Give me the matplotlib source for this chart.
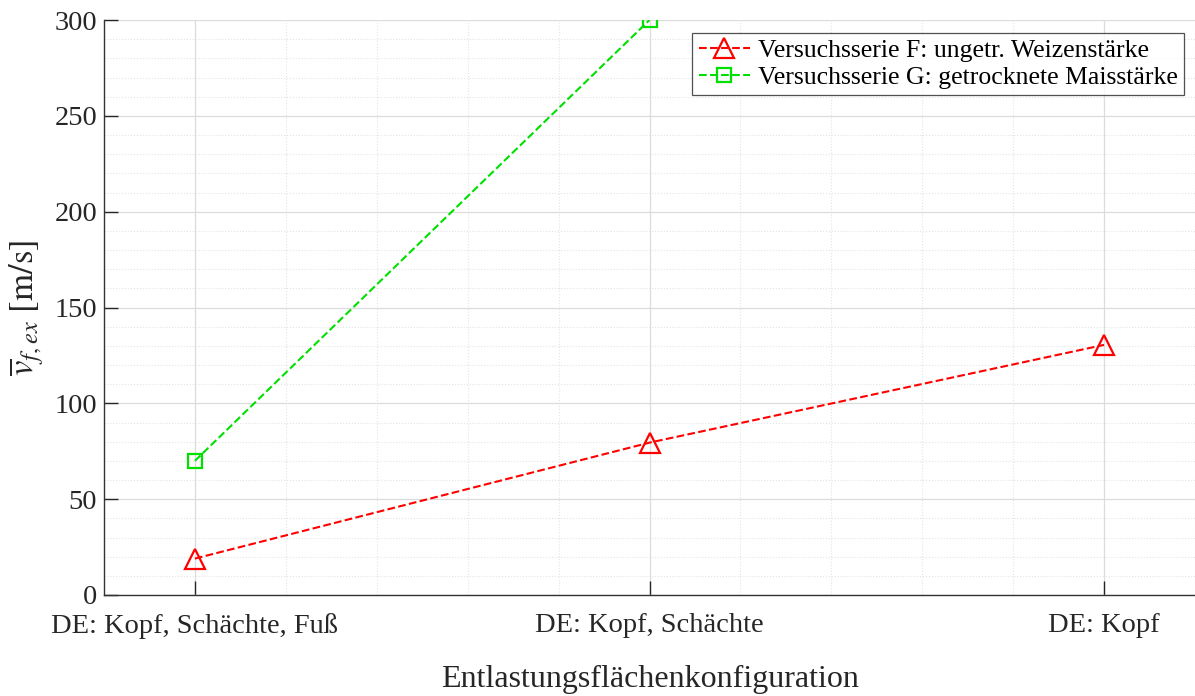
import matplotlib.pyplot as plt
from matplotlib.ticker import MultipleLocator

# Konfigurationen der Entlastungsflächen
konfigurationen = ['DE: Kopf, Schächte, Fuß', 'DE: Kopf, Schächte', 'DE: Kopf']
pos_f = [0, 1, 2]
pos_g = [0, 1]

# mittlere Flammengeschwindigkeit in m/s
v_f = [19, 79.5, 130.5]
v_g = [70, 300]

plt.rcParams['font.family'] = 'Liberation Serif'
plt.rcParams['mathtext.fontset'] = 'stix'

fig = plt.figure(figsize=(11.95, 6.96), dpi=100)
ax = fig.add_axes([104 / 1195, 101 / 696, 1 - 104 / 1195, 575 / 696])

ax.plot(pos_f, v_f, '--', color='#ff0000', lw=1.5, marker='^', ms=14,
        mfc='none', mec='#ff0000', mew=1.6,
        label='Versuchsserie F: ungetr. Weizenstärke')
ax.plot(pos_g, v_g, '--', color='#00e000', lw=1.5, marker='s', ms=10,
        mfc='none', mec='#00e000', mew=1.6,
        label='Versuchsserie G: getrocknete Maisstärke')

ax.set_xlim(-0.2, 2.2)
ax.set_ylim(0, 300)
ax.set_xticks(pos_f)
ax.set_xticklabels(konfigurationen)
ax.xaxis.set_minor_locator(MultipleLocator(0.2))
ax.yaxis.set_major_locator(MultipleLocator(50))
ax.yaxis.set_minor_locator(MultipleLocator(10))

ax.grid(which='major', color='#dcdcdc', lw=0.9)
ax.grid(which='minor', color='#e4e4e4', lw=0.8, ls=':')
ax.set_axisbelow(True)

for s in ['top', 'right']:
    ax.spines[s].set_visible(False)
for s in ['left', 'bottom']:
    ax.spines[s].set_color('#333333')
    ax.spines[s].set_linewidth(1.0)

ax.tick_params(which='major', direction='in', length=10, width=1.0,
               colors='#262626', labelsize=20.5)
ax.tick_params(which='minor', length=0)
ax.tick_params(axis='x', pad=13)
ax.tick_params(axis='y', pad=5)

ax.set_xlabel('Entlastungsflächenkonfiguration', fontsize=23, color='#262626', labelpad=19)
ax.set_ylabel(r'$\overline{v}_{f,ex}\ [\mathrm{m/s}]$', fontsize=25, color='#262626', labelpad=6)

leg = ax.legend(loc='upper right', bbox_to_anchor=(0.99, 0.978), fontsize=18.5,
                frameon=True, fancybox=False, edgecolor='#262626',
                handlelength=2.0, handletextpad=0.3, borderpad=0.25,
                labelspacing=0.15, borderaxespad=0)
leg.get_frame().set_linewidth(0.9)

fig.savefig('out.png', dpi=100)
